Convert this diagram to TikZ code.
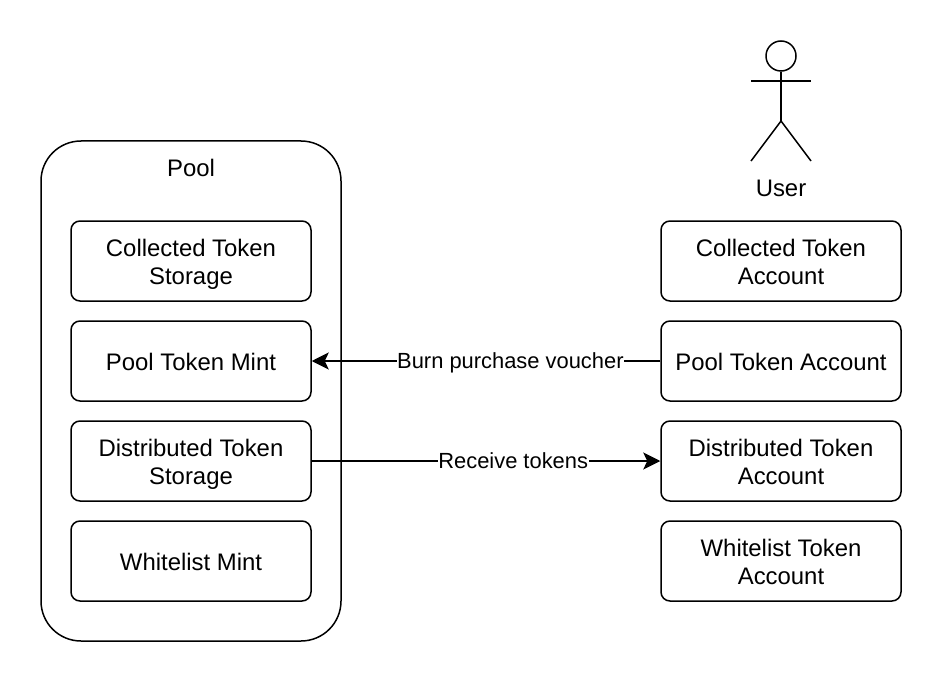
\documentclass[tikz,border=0pt]{standalone}
\usepackage{fontspec}
\setmainfont{Liberation Sans}
\usetikzlibrary{arrows.meta}
\newcommand{\padtop}{\rule{0pt}{24pt}}
\newcommand{\paddep}{\rule[-5pt]{0pt}{5pt}}
\begin{document}
\begin{tikzpicture}[x=1pt,y=-1pt,>={Stealth[length=17pt,width=17pt,inset=4pt]},line width=1.5pt,
box/.style={rectangle, draw, align=center, rounded corners=9pt, minimum width=240pt, minimum height=80pt, inner sep=0pt, font=\fontsize{23.9}{28}\selectfont},
lab/.style={fill=white, inner sep=0.5pt, font=\fontsize{21.9}{24}\selectfont}]

\useasboundingbox (0,0) rectangle (942,682);

\node[rectangle, draw, rounded corners=40pt, minimum width=300pt, minimum height=500pt, inner sep=0pt] (Pool) at (191,391) {};
\node[font=\fontsize{23.9}{28}\selectfont] (PoolL) at (191,168) {Pool};

\node[box] (CS) at (191,261) {\padtop Collected Token\\Storage};
\node[box] (PM) at (191,361) {\rule{0pt}{19pt}Pool Token Mint};
\node[box] (DS) at (191,461) {\padtop Distributed Token\\Storage};
\node[box] (WM) at (191,561) {\rule{0pt}{19pt}Whitelist Mint};

\node[box] (CA) at (781,261) {\padtop Collected Token\\Account\paddep};
\node[box] (PA) at (781,361) {\rule{0pt}{19pt}Pool Token Account};
\node[box] (DA) at (781,461) {\padtop Distributed Token\\Account\paddep};
\node[box] (WA) at (781,561) {\padtop Whitelist Token\\Account\paddep};

% user figure
\node[circle, draw, minimum size=30pt, inner sep=0pt] (Head) at (781,56) {};
\coordinate (Hip) at (781,121);
\coordinate (ArmL) at (751,81);
\coordinate (ArmR) at (811,81);
\coordinate (FootL) at (751,161);
\coordinate (FootR) at (811,161);
\draw (Head)--(Hip);
\draw (ArmL)--(ArmR);
\draw (FootL)--(Hip)--(FootR);
\node[font=\fontsize{23.9}{28}\selectfont] (UserL) at (781,188) {User};

\draw[->] (PA)--node[lab,pos=0.43,yshift=-1.5pt] (BurnL) {Burn purchase voucher} (PM);
\draw[->] (DS)--node[lab,pos=0.578,yshift=0.5pt] (RecvL) {Receive tokens} (DA);

\end{tikzpicture}
\end{document}
